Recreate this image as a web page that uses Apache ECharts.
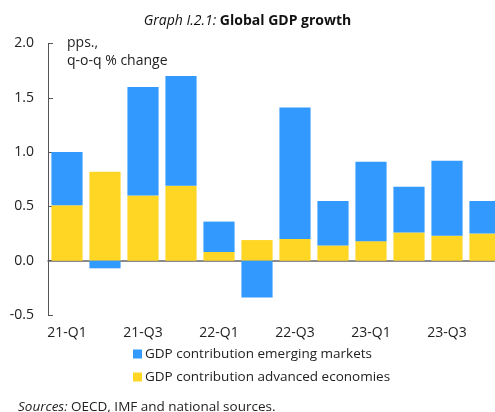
<!DOCTYPE html>
<html lang="en">
<head>
	<meta charset="UTF-8">
	<title>Global GDP growth</title>
	<style>
		html, body { margin: 0; padding: 0; background: #fff; }
		#chart { width: 495px; height: 412px; }
	</style>
</head>
<body>
	<div id="chart"></div>
	<script src="https://cdn.jsdelivr.net/npm/echarts@6/dist/echarts.min.js"></script>
	<script>
		// data
		var quarters = ['21-Q1', '21-Q2', '21-Q3', '21-Q4', '22-Q1', '22-Q2', '22-Q3', '22-Q4', '23-Q1', '23-Q2', '23-Q3', '23-Q4'];
		var advanced = [0.51, 0.82, 0.60, 0.69, 0.08, 0.19, 0.20, 0.14, 0.18, 0.26, 0.23, 0.25];
		var emerging = [0.49, -0.07, 1.00, 1.01, 0.28, -0.34, 1.21, 0.41, 0.73, 0.42, 0.69, 0.30];
		var yTicks = [-0.5, 0.0, 0.5, 1.0, 1.5, 2.0];

		var font = 'Open Sans';
		var chart = echarts.init(document.getElementById('chart'));

		var option = {
			animation: false,
			textStyle: { fontFamily: font },
			title: {
				text: '{i|Graph I.2.1: }{b|Global GDP growth}',
				left: 'center',
				top: 9,
				textStyle: {
					rich: {
						i: { fontFamily: font, fontStyle: 'italic', fontWeight: 'normal', fontSize: 14, color: '#111' },
						b: { fontFamily: font, fontWeight: 'bold', fontSize: 14, color: '#111' }
					}
				}
			},
			grid: { left: 48, right: -9, top: 43.5, bottom: 97, outerBoundsMode: 'none' },
			legend: {
				orient: 'vertical',
				left: 133,
				top: 347,
				padding: 0,
				itemWidth: 9,
				itemHeight: 9,
				itemGap: 9,
				icon: 'rect',
				data: ['GDP contribution emerging markets', 'GDP contribution advanced economies'],
				textStyle: { fontFamily: font, fontSize: 13.5, color: '#222', padding: [0, 0, 0, -2] }
			},
			xAxis: [{
				// labels at bottom
				type: 'category',
				data: quarters,
				position: 'bottom',
				axisLine: { show: false, onZero: false },
				axisTick: { show: false },
				axisLabel: { interval: 1, margin: 11, fontSize: 14, color: '#222', fontFamily: font }
			}, {
				// zero line with yearly ticks
				type: 'category',
				data: quarters,
				axisLine: { onZero: true, lineStyle: { color: '#666', width: 1.5 } },
				axisTick: {
					inside: true, length: 4,
					interval: function (i) { return i % 4 === 0; },
					lineStyle: { color: '#222' }
				},
				axisLabel: { show: false }
			}],
			yAxis: {
				type: 'value',
				min: yTicks[0],
				max: yTicks[yTicks.length - 1],
				interval: 0.5,
				splitLine: { show: false },
				axisLine: { show: true, lineStyle: { color: '#555' } },
				axisTick: { show: true, inside: true, length: 5, lineStyle: { color: '#555' } },
				axisLabel: {
					margin: 14, fontSize: 14, color: '#222', fontFamily: font,
					formatter: function (v) { return v.toFixed(1); }
				}
			},
			graphic: [{
				type: 'text', left: 67, top: 34,
				style: { text: 'pps.,\nq-o-q % change', fontFamily: font, fontSize: 14, lineHeight: 18, fill: '#222' }
			}, {
				type: 'text', left: 18, top: 400,
				style: {
					text: '{i|Sources:} OECD, IMF and national sources.',
					fontFamily: font, fontSize: 13.5, fill: '#222',
					rich: { i: { fontStyle: 'italic', fontFamily: font, fontSize: 13.5, fill: '#222' } }
				}
			}],
			series: [{
				name: 'GDP contribution advanced economies',
				type: 'bar',
				stack: 'gdp',
				barCategoryGap: '18%',
				itemStyle: { color: '#ffd624' },
				data: advanced
			}, {
				name: 'GDP contribution emerging markets',
				type: 'bar',
				stack: 'gdp',
				barCategoryGap: '18%',
				itemStyle: { color: '#3299ff' },
				data: emerging
			}]
		};

		chart.setOption(option);
	</script>
</body>
</html>
